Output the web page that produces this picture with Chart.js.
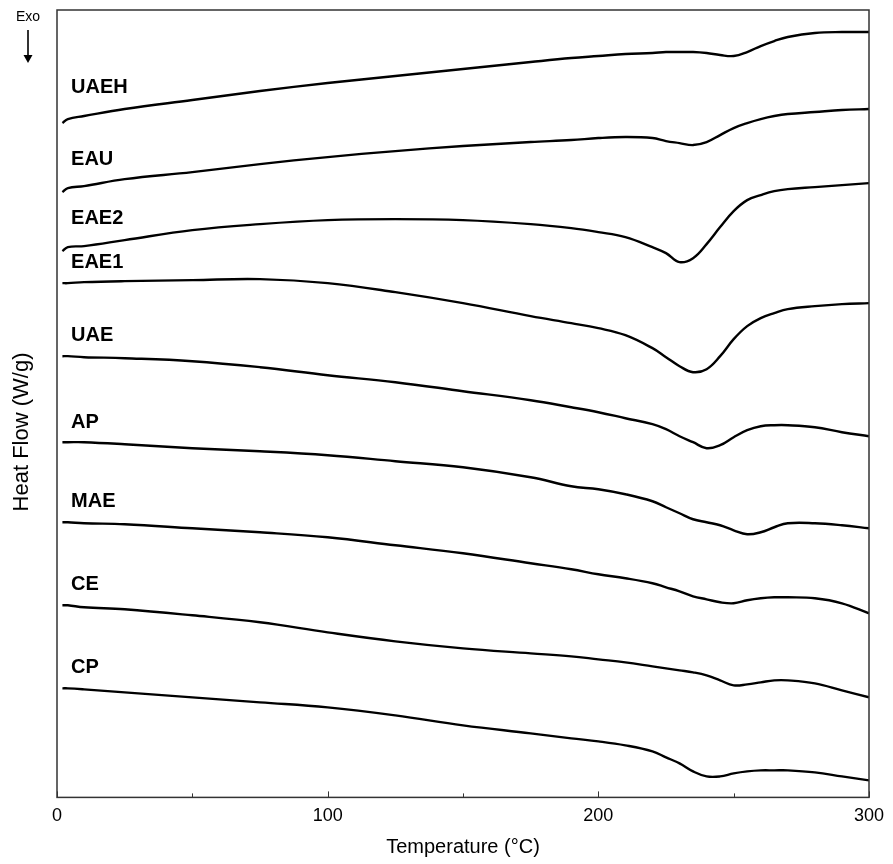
<!DOCTYPE html>
<html>
<head>
<meta charset="utf-8">
<script src="https://cdn.jsdelivr.net/npm/chart.js@4/dist/chart.umd.min.js"></script>
<style>
  html, body { margin: 0; padding: 0; background: #fff; }
  #wrap { width: 893px; height: 864px; }
</style>
</head>
<body>
<div id="wrap"><canvas id="dsc"></canvas></div>
<script>
// DSC thermograms, curves stacked with a vertical offset (arbitrary heat-flow units)

const temps = [2, 4, 10, 25, 50, 75, 100, 125, 150, 175, 190, 200, 210, 220, 225, 230, 235, 240, 245, 250, 255, 260, 265, 270, 280, 290, 300];

const uaeh = [674, 678, 681, 688, 697, 706, 714, 721, 728, 735, 739, 741, 743, 744, 745, 745, 745, 744, 742, 741, 745, 751, 756, 760, 764, 765, 765];
const eau  = [605, 609, 611, 618, 625, 633, 640, 646, 651, 655, 657, 659, 660, 659, 656, 654, 652, 655, 662, 669, 674, 678, 681, 683, 685, 687, 688];
const eae2 = [546, 550, 551, 557, 567, 573, 577, 578, 577, 573, 569, 565, 560, 550, 544, 535, 539, 553, 570, 586, 597, 602, 606, 608, 610, 612, 614];
const eae1 = [514, 514, 515, 516, 517, 518, 514, 505, 494, 481, 474, 469, 462, 449, 440, 431, 425, 428, 441, 458, 471, 479, 484, 488, 491, 493, 494];
const uae  = [441, 441, 440, 439, 436, 430, 422, 415, 406, 397, 390, 385, 379, 373, 368, 361, 355, 349, 352, 360, 367, 371, 372, 372, 370, 365, 361];
const ap   = [355, 355, 355, 353, 349, 346, 342, 336, 330, 320, 311, 308, 303, 296, 290, 284, 278, 275, 272, 267, 263, 265, 270, 274, 274, 272, 269];
const mae  = [275, 275, 274, 273, 269, 265, 260, 252, 244, 234, 228, 223, 219, 214, 210, 206, 201, 198, 195, 194, 197, 199, 200, 200, 199, 194, 184];
const ce   = [192, 192, 190, 188, 182, 175, 165, 156, 149, 144, 141, 138, 135, 131, 129, 127, 125, 122, 117, 112, 113, 115, 117, 117, 114, 107, 100];
const cp   = [109, 109, 108, 105, 100, 95, 90, 82, 72, 64, 59, 56, 52, 46, 40, 34, 26, 21, 21, 24, 26, 27, 27, 27, 25, 21, 17];

const sampleNames = ['UAEH', 'EAU', 'EAE2', 'EAE1', 'UAE', 'AP', 'MAE', 'CE', 'CP'];
const sampleSeries = [uaeh, eau, eae2, eae1, uae, ap, mae, ce, cp];
// where each name sits (temperature, heat flow)
const labelTemp = 5.2;
const labelFlow = [710, 638, 579, 535, 462, 375, 296, 213, 130];

const xTicks = [0, 100, 200, 300];
const xMinorTicks = [50, 150, 250];

const FONT = "'Liberation Sans', Arial, sans-serif";

const datasets = sampleSeries.map((vals, i) => ({
  label: sampleNames[i],
  data: temps.map((t, j) => ({ x: t, y: vals[j] })),
  borderColor: '#000',
  borderWidth: 2.4,
  pointRadius: 0,
  fill: false,
  tension: 0.4,
}));

// frame, inward ticks, curve names, y title and the Exo arrow
const decorations = {
  id: 'decorations',
  afterDraw(chart) {
    const { ctx, chartArea: a, scales } = chart;
    const xs = scales.x, ys = scales.y;
    ctx.save();

    ctx.strokeStyle = '#333';
    ctx.lineWidth = 1.5;
    ctx.strokeRect(a.left, a.top, a.right - a.left, a.bottom - a.top);

    ctx.lineWidth = 1;
    ctx.beginPath();
    xTicks.concat(xMinorTicks).forEach(v => {
      const px = Math.round(xs.getPixelForValue(v)) + 0.5;
      const len = xTicks.includes(v) ? 6 : 4;
      ctx.moveTo(px, a.bottom);
      ctx.lineTo(px, a.bottom - len);
    });
    ctx.stroke();

    ctx.fillStyle = '#000';
    ctx.font = `bold 20px ${FONT}`;
    ctx.textAlign = 'left';
    ctx.textBaseline = 'middle';
    sampleNames.forEach((name, i) => {
      ctx.fillText(name, xs.getPixelForValue(labelTemp), ys.getPixelForValue(labelFlow[i]));
    });

    // y axis title
    ctx.save();
    ctx.translate(22, 432);
    ctx.rotate(-Math.PI / 2);
    ctx.font = `22px ${FONT}`;
    ctx.textAlign = 'center';
    ctx.textBaseline = 'middle';
    ctx.fillText('Heat Flow (W/g)', 0, 0);
    ctx.restore();

    // exotherm direction
    ctx.font = `14px ${FONT}`;
    ctx.textAlign = 'center';
    ctx.textBaseline = 'middle';
    ctx.fillText('Exo', 28, 17);
    ctx.lineWidth = 2;
    ctx.beginPath();
    ctx.moveTo(28, 30);
    ctx.lineTo(28, 56);
    ctx.stroke();
    ctx.beginPath();
    ctx.moveTo(23.5, 55);
    ctx.lineTo(32.5, 55);
    ctx.lineTo(28, 63);
    ctx.closePath();
    ctx.fill();

    ctx.restore();
  },
};

new Chart(document.getElementById('dsc'), {
  type: 'line',
  data: { datasets },
  plugins: [decorations],
  options: {
    responsive: true,
    maintainAspectRatio: false,
    animation: false,
    layout: { padding: { left: 57, right: 24, top: 10, bottom: 5 } },
    plugins: {
      legend: { display: false },
      tooltip: { enabled: false },
    },
    scales: {
      x: {
        type: 'linear',
        min: 0,
        max: 300,
        afterBuildTicks: (s) => { s.ticks = xTicks.map(v => ({ value: v })); },
        ticks: { color: '#000', font: { family: FONT, size: 18 }, padding: 8, maxRotation: 0 },
        grid: { display: false, drawTicks: false, tickLength: 0 },
        border: { display: false },
        title: {
          display: true,
          text: 'Temperature (°C)',
          color: '#000',
          font: { family: FONT, size: 20 },
          padding: { top: 0, bottom: 0 },
        },
      },
      y: {
        min: 0,
        max: 787,
        ticks: { display: false },
        grid: { display: false, drawTicks: false, tickLength: 0 },
        border: { display: false },
      },
    },
  },
});
</script>
</body>
</html>
